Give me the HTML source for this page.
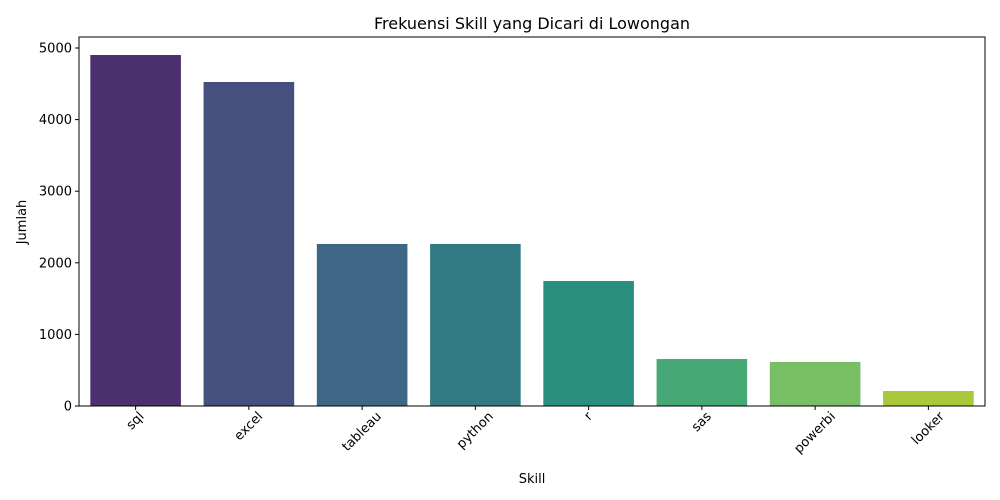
<!DOCTYPE html>
<html><head><meta charset="utf-8"><style>body{margin:0;background:#fff}svg{display:block;font-family:"DejaVu Sans","Liberation Sans",sans-serif}</style></head>
<body>
<svg id="c" width="1000" height="500">
<rect width="1000" height="500" fill="#fff"/>
<text x="532" y="29" font-size="16" text-anchor="middle">Frekuensi Skill yang Dicari di Lowongan</text>
<text x="532" y="483" font-size="13" text-anchor="middle">Skill</text>
<text transform="translate(26,222) rotate(-90)" font-size="13" text-anchor="middle">Jumlah</text>
<g id="bars"></g><g id="axes"></g>
</svg>
<script>
const categories=["sql","excel","tableau","python","r","sas","powerbi","looker"];
const values=[4902,4525,2263,2263,1746,656,615,210];
const colors=["#4a306e","#46507f","#3e6685","#317a83","#2c8f7d","#46a874","#77be65","#abc83d"];
const yTicks=[0,1000,2000,3000,4000,5000];
const L=79,R=985,T=37,B=406;
const NS="http://www.w3.org/2000/svg";
const svg=document.getElementById('c');
const step=(R-L)/categories.length;
const xc=i=>L+step*(i+0.5);
const y=v=>B-v*(B-48)/5000;
function mk(t,a,p){const e=document.createElementNS(NS,t);for(const k in a)e.setAttribute(k,a[k]);p.appendChild(e);return e;}
const bg=document.getElementById('bars'),ag=document.getElementById('axes');
categories.forEach((c,i)=>{
 const r=mk('rect',{x:xc(i)-step*0.4,y:y(values[i]),width:step*0.8,height:B-y(values[i]),fill:colors[i]},bg);
 
 
 mk('line',{x1:xc(i),x2:xc(i),y1:B,y2:B+4,stroke:'#000'},ag);
 const t=mk('text',{'font-size':13,'text-anchor':'middle','dominant-baseline':'central'},ag);
 t.textContent=c;
 
 
 const w=t.getComputedTextLength();
 const cy=410+(w+13)*0.707/2;
 t.setAttribute('transform',`translate(${xc(i)},${cy}) rotate(-45)`);
});
yTicks.forEach(v=>{
 mk('line',{x1:L-4,x2:L,y1:y(v),y2:y(v),stroke:'#000'},ag);
 const t=mk('text',{x:L-7,y:y(v)+4.5,'font-size':13,'text-anchor':'end'},ag);
 t.textContent=v;
 
 
});
const f=mk('rect',{x:L,y:T,width:R-L,height:B-T,fill:'none',stroke:'#000','stroke-width':1},ag);


</script>
</body></html>
